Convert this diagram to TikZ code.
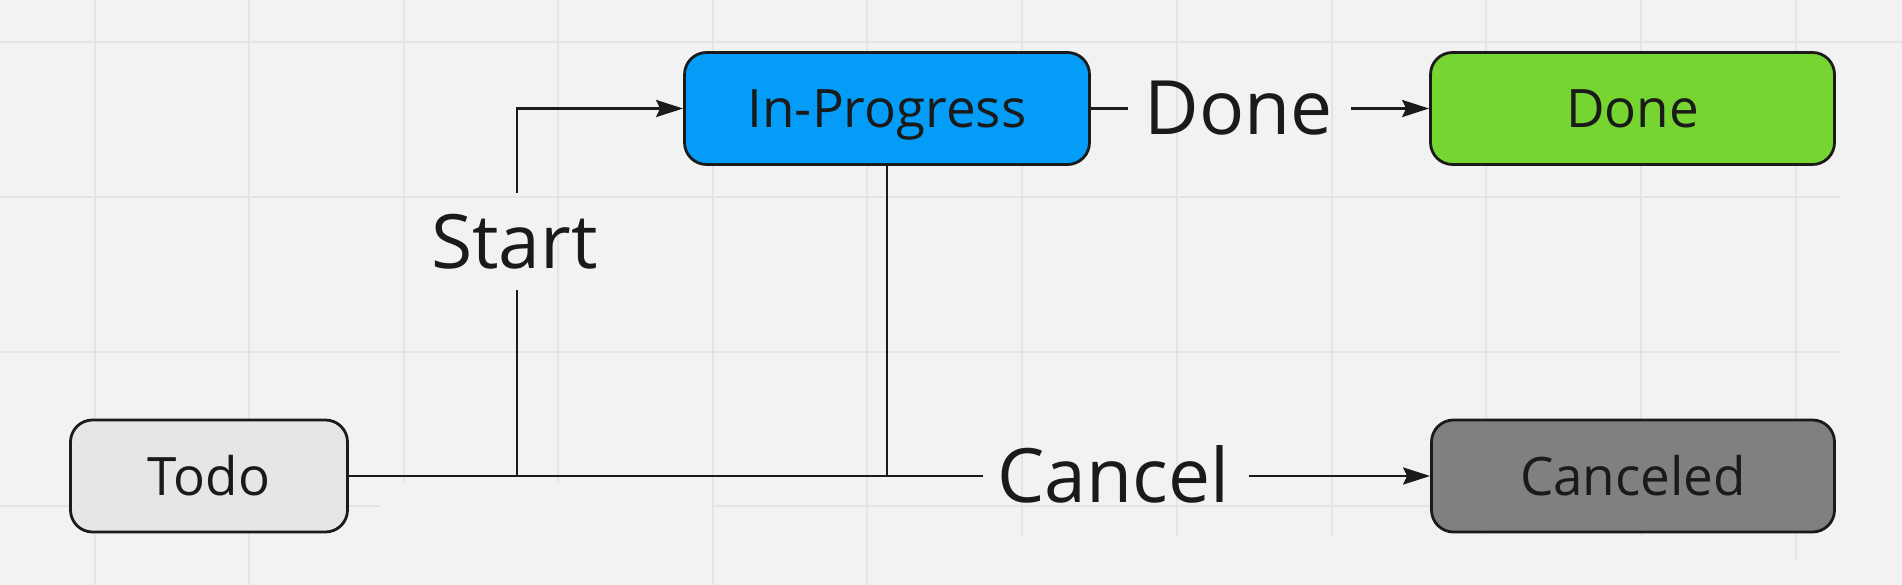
\documentclass[tikz,border=0pt]{standalone}
\usepackage{fontspec}
\setmainfont{Open Sans}
\usetikzlibrary{arrows.meta}
\definecolor{bgc}{HTML}{F2F2F2}
\definecolor{gridc}{HTML}{E4E4E4}
\definecolor{ink}{HTML}{1A1A1A}
\definecolor{bluec}{HTML}{039CF6}
\definecolor{greenc}{HTML}{77D532}
\definecolor{todoc}{HTML}{E6E6E6}
\definecolor{cancc}{HTML}{808080}
\begin{document}
\begin{tikzpicture}[x=1pt,y=-1pt,
  box/.style={draw=ink, line width=2.8pt, rounded corners=22pt, minimum height=112pt,
    text height=38pt, text depth=0pt, inner sep=0pt, font=\fontsize{53}{60}\selectfont, text=ink},
  elabel/.style={font=\fontsize{75}{90}\selectfont, text=ink, inner sep=0pt, anchor=base},
  conn/.style={draw=ink, line width=2.8pt},
  arr/.style={conn, -{Stealth[length=27pt,width=17pt,inset=4pt]}},
  gridline/.style={draw=gridc, line width=2pt}]

\fill[bgc] (0,0) rectangle (1902,585);
\useasboundingbox (0,0) rectangle (1902,585);

% background grid
\foreach \y/\xe in {42/1902,197/1840,352/1840} \draw[gridline] (0,\y) -- (\xe,\y);
\draw[gridline] (0,506) -- (380,506);
\draw[gridline] (713,506) -- (1430,506);
\foreach \x/\ye in {95/585,249/585,404/482,558/482,713/585,867/585,1022/535,1177/535,1332/535,1486/535,1641/535,1796/560}
  \draw[gridline] (\x,0) -- (\x,\ye);

% nodes
\node[box, fill=bluec, minimum width=405pt] (ip) at (887,108.5) {In-Progress};
\node[box, fill=greenc, minimum width=404pt] (done) at (1632.5,108.5) {Done};
\node[box, fill=todoc, minimum width=277pt] (todo) at (209,476) {Todo};
\node[box, fill=cancc, minimum width=403pt] (canc) at (1633,476) {Canceled};

% edge labels
\node[elabel] (lstart) at (514.5,269) {Start};
\node[elabel] (ldone) at (1238.5,135) {Done};
\node[elabel] (lcancel) at (1113.5,502) {Cancel};

% routing points
\coordinate (j1) at (517,476);
\coordinate (j2) at (887,476);
\coordinate (s1) at (517,290);
\coordinate (s2) at (517,193);
\coordinate (d1) at (1128,108.5);
\coordinate (d2) at (1351,108.5);
\coordinate (c1) at (983,476);
\coordinate (c2) at (1249,476);

% connectors
\draw[conn] (todo.east) -- (c1);
\draw[conn] (j1) -- (s1);
\draw[arr] (s2) |- (ip.west);
\draw[conn] (ip.south) -- (j2);
\draw[arr] (c2) -- (canc.west);
\draw[conn] (ip.east) -- (d1);
\draw[arr] (d2) -- (done.west);
\end{tikzpicture}
\end{document}
